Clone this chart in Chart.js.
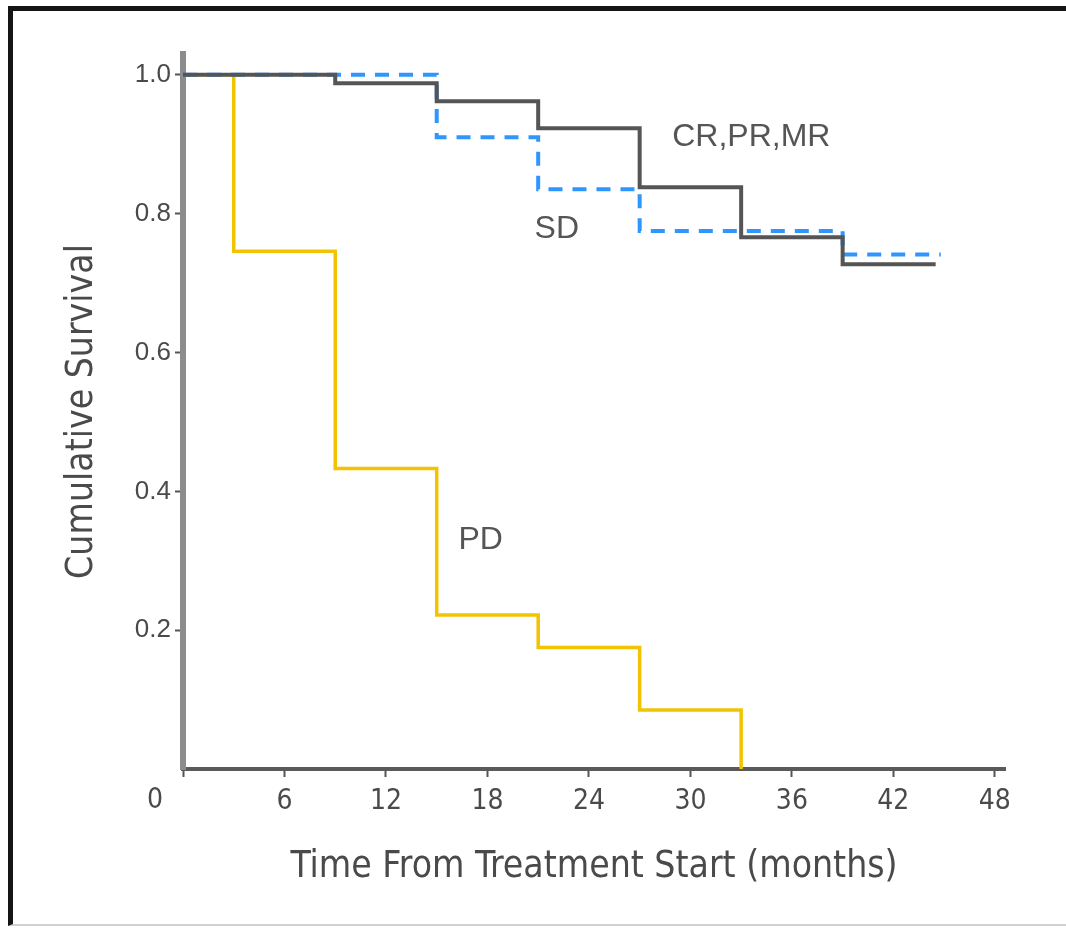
<!DOCTYPE html>
<html>
<head>
<meta charset="utf-8">
<script src="https://cdn.jsdelivr.net/npm/chart.js@4/dist/chart.umd.min.js"></script>
<style>
  html, body { margin: 0; padding: 0; background: #fff; }
  #wrap { position: relative; width: 1066px; height: 928px; }
  #frame {
    position: absolute; left: 8px; top: 6px; right: 0; bottom: 2px;
    border-top: 5px solid #151515; border-left: 5px solid #151515;
    border-bottom: 2px solid #d0d0d0; pointer-events: none;
  }
</style>
</head>
<body>
<div id="wrap">
  <canvas id="kmChart" width="1066" height="928"></canvas>
  <div id="frame"></div>
</div>
<script>
// ── Kaplan-Meier steps (time of drop in months, survival after drop) ──
const crTimes = [0, 9, 15, 21, 27, 33, 39, 44.5];
const crSurv  = [1.0, 0.988, 0.962, 0.923, 0.838, 0.766, 0.727, 0.727];

const sdTimes = [0, 15, 21, 27, 39, 44.8];
const sdSurv  = [1.0, 0.91, 0.835, 0.775, 0.741, 0.741];

const pdTimes = [0, 3, 9, 15, 21, 27, 33];
const pdSurv  = [1.0, 0.746, 0.433, 0.222, 0.175, 0.085, 0];

const xTicks = [0, 6, 12, 18, 24, 30, 36, 42, 48];
const yTicks = [0.2, 0.4, 0.6, 0.8, 1.0];

const seriesNames = ['CR,PR,MR', 'SD', 'PD'];

const toPoints = (t, s) => t.map((x, i) => ({ x, y: s[i] }));

const TEXT = '#4a4a4a';
const NARROW = '"Liberation Sans Narrow", "DejaVu Sans Condensed", sans-serif';
const SANS = '"Liberation Sans", Arial, sans-serif';

// curve names + the lone "0" below the origin
const labelsPlugin = {
    id: 'curveLabels',
    afterDatasetsDraw(chart) {
        const { ctx, scales: { x, y } } = chart;
        const spots = [[33.6, 0.91], [22.1, 0.777], [17.6, 0.33]];
        ctx.save();
        ctx.fillStyle = '#555';
        ctx.font = '32px ' + SANS;
        ctx.textAlign = 'center';
        ctx.textBaseline = 'middle';
        seriesNames.forEach((name, i) => {
            ctx.fillText(name, x.getPixelForValue(spots[i][0]), y.getPixelForValue(spots[i][1]));
        });
        ctx.font = '28px ' + NARROW;
        ctx.fillStyle = TEXT;
        ctx.fillText('0', x.getPixelForValue(0) - 28, y.bottom + 32);
        ctx.restore();
    }
};

new Chart(document.getElementById('kmChart'), {
    type: 'line',
    data: {
        datasets: [
            {
                label: seriesNames[0], data: toPoints(crTimes, crSurv),
                borderColor: '#555555', borderWidth: 4, stepped: 'before', order: 0
            },
            {
                label: seriesNames[1], data: toPoints(sdTimes, sdSurv),
                borderColor: '#2f95ff', borderWidth: 4, borderDash: [14, 10],
                stepped: 'before', order: 1
            },
            {
                label: seriesNames[2], data: toPoints(pdTimes, pdSurv),
                borderColor: '#f2c300', borderWidth: 3.5, stepped: 'before', order: 2
            }
        ]
    },
    options: {
        responsive: false,
        animation: false,
        layout: { padding: { top: 54, right: 61, left: 0, bottom: 0 } },
        elements: { point: { radius: 0 }, line: { tension: 0, fill: false } },
        plugins: { legend: { display: false }, tooltip: { enabled: false } },
        scales: {
            x: {
                type: 'linear', min: 0, max: 48.6,
                afterBuildTicks: s => { s.ticks = xTicks.map(v => ({ value: v })); },
                afterFit: s => { s.height = 159; },
                grid: { drawOnChartArea: false, tickLength: 8, tickColor: '#555', tickWidth: 2 },
                border: { color: '#5a5a5a', width: 4 },
                ticks: {
                    color: TEXT, padding: 8, maxRotation: 0,
                    font: { family: NARROW, size: 28 },
                    callback: v => v === 0 ? '' : v
                },
                title: {
                    display: true, text: 'Time From Treatment Start (months)',
                    color: TEXT, font: { family: NARROW, size: 37 },
                    padding: { top: 0, bottom: 38 }
                }
            },
            y: {
                type: 'linear', min: 0, max: 1.03,
                afterBuildTicks: s => { s.ticks = yTicks.map(v => ({ value: v })); },
                afterFit: s => { s.width = 183; },
                grid: { drawOnChartArea: false, tickLength: 8, tickColor: '#555', tickWidth: 2 },
                border: { color: '#8c8c8c', width: 6 },
                ticks: {
                    color: TEXT, padding: 4,
                    font: { family: SANS, size: 26 },
                    callback: v => v.toFixed(1)
                },
                title: {
                    display: true, text: 'Cumulative Survival',
                    color: TEXT, font: { family: NARROW, size: 37 },
                    padding: { top: 60, bottom: 0 }
                }
            }
        }
    },
    plugins: [labelsPlugin]
});
</script>
</body>
</html>
